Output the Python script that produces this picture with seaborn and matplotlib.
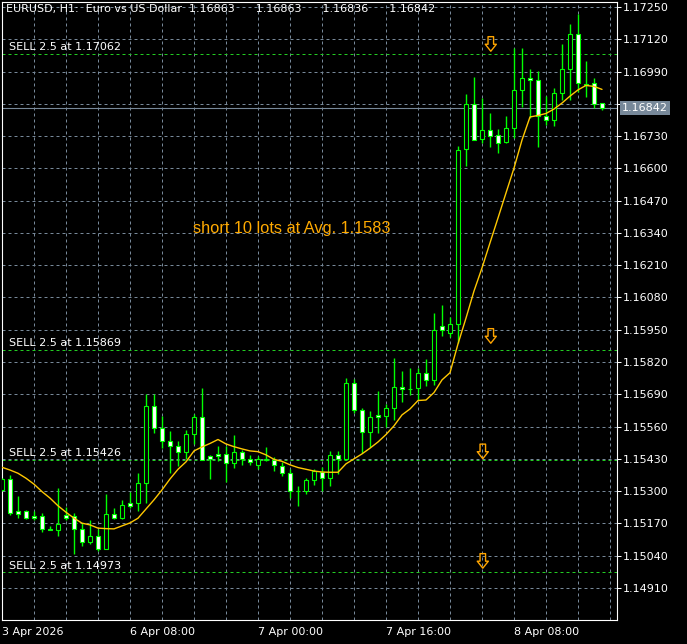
import numpy as np
import pandas as pd
import matplotlib
matplotlib.use('Agg')
import matplotlib.pyplot as plt
from matplotlib.path import Path
import seaborn as sns

# ------------------------------------
# --- Dados (EURUSD H1), um valor por barra
# ------------------------------------
opens = [1.15305, 1.15349, 1.15220, 1.15220, 1.15200, 1.15200, 1.15146, 1.15144, 1.15204, 1.15200,
         1.15148, 1.15095, 1.15119, 1.15067, 1.15206, 1.15190, 1.15251, 1.15253, 1.15333, 1.15643,
         1.15553, 1.15500, 1.15480, 1.15456, 1.15532, 1.15597, 1.15440, 1.15448, 1.15448, 1.15412,
         1.15458, 1.15428, 1.15404, 1.15426, 1.15426, 1.15402, 1.15375, 1.15299, 1.15299, 1.15343,
         1.15379, 1.15351, 1.15444, 1.15428, 1.15734, 1.15627, 1.15540, 1.15605, 1.15603, 1.15633,
         1.15718, 1.15711, 1.15714, 1.15774, 1.15748, 1.15965, 1.15937, 1.15975, 1.16676, 1.16861,
         1.16717, 1.16754, 1.16734, 1.16705, 1.16761, 1.16916, 1.16963, 1.16956, 1.16811, 1.16795,
         1.16902, 1.16999, 1.17141, 1.16940, 1.16943, 1.16863]
highs = [1.15353, 1.15363, 1.15281, 1.15224, 1.15220, 1.15212, 1.15158, 1.15313, 1.15236, 1.15212,
         1.15172, 1.15184, 1.15148, 1.15287, 1.15232, 1.15265, 1.15295, 1.15375, 1.15690, 1.15690,
         1.15603, 1.15542, 1.15500, 1.15546, 1.15611, 1.15714, 1.15446, 1.15482, 1.15482, 1.15526,
         1.15466, 1.15446, 1.15442, 1.15478, 1.15436, 1.15416, 1.15391, 1.15321, 1.15351, 1.15389,
         1.15397, 1.15460, 1.15462, 1.15754, 1.15750, 1.15635, 1.15621, 1.15702, 1.15651, 1.15836,
         1.15784, 1.15796, 1.15796, 1.15832, 1.16016, 1.16050, 1.16003, 1.16692, 1.16900, 1.16967,
         1.16883, 1.16821, 1.16758, 1.16811, 1.17086, 1.17086, 1.17000, 1.16992, 1.16891, 1.16922,
         1.17101, 1.17181, 1.17222, 1.17032, 1.16965, 1.16863]
lows = [1.15301, 1.15204, 1.15192, 1.15188, 1.15184, 1.15136, 1.15142, 1.15118, 1.15184, 1.15047,
        1.15079, 1.15087, 1.15059, 1.15065, 1.15186, 1.15186, 1.15232, 1.15218, 1.15253, 1.15536,
        1.15472, 1.15375, 1.15400, 1.15430, 1.15490, 1.15424, 1.15349, 1.15422, 1.15337, 1.15395,
        1.15406, 1.15406, 1.15389, 1.15420, 1.15381, 1.15361, 1.15271, 1.15242, 1.15287, 1.15325,
        1.15299, 1.15321, 1.15369, 1.15424, 1.15615, 1.15454, 1.15478, 1.15536, 1.15557, 1.15587,
        1.15657, 1.15686, 1.15667, 1.15724, 1.15728, 1.15923, 1.15921, 1.15897, 1.16610, 1.16714,
        1.16703, 1.16688, 1.16660, 1.16702, 1.16721, 1.16846, 1.16802, 1.16687, 1.16775, 1.16772,
        1.16875, 1.16875, 1.16909, 1.16889, 1.16842, 1.16836]
closes = [1.15349, 1.15210, 1.15208, 1.15192, 1.15190, 1.15148, 1.15144, 1.15168, 1.15192, 1.15148,
          1.15095, 1.15119, 1.15067, 1.15206, 1.15192, 1.15244, 1.15242, 1.15333, 1.15643, 1.15553,
          1.15500, 1.15480, 1.15456, 1.15532, 1.15597, 1.15426, 1.15430, 1.15440, 1.15412, 1.15456,
          1.15428, 1.15418, 1.15428, 1.15428, 1.15404, 1.15375, 1.15301, 1.15301, 1.15345, 1.15383,
          1.15351, 1.15444, 1.15428, 1.15734, 1.15625, 1.15540, 1.15597, 1.15597, 1.15633, 1.15718,
          1.15710, 1.15713, 1.15774, 1.15746, 1.15949, 1.15947, 1.15975, 1.16674, 1.16859, 1.16716,
          1.16754, 1.16732, 1.16704, 1.16761, 1.16916, 1.16963, 1.16955, 1.16811, 1.16795, 1.16902,
          1.16999, 1.17141, 1.16943, 1.16934, 1.16859, 1.16842]
# media movel (linha amarela)
ma_line = [1.15396, 1.15385, 1.15372, 1.15352, 1.15328, 1.15298, 1.15272, 1.15241, 1.15215, 1.15191,
           1.15171, 1.15164, 1.15151, 1.15149, 1.15148, 1.15160, 1.15172, 1.15191, 1.15228, 1.15265,
           1.15305, 1.15349, 1.15388, 1.15418, 1.15462, 1.15478, 1.15492, 1.15508, 1.15490, 1.15479,
           1.15470, 1.15462, 1.15459, 1.15446, 1.15428, 1.15420, 1.15406, 1.15395, 1.15388, 1.15381,
           1.15377, 1.15376, 1.15376, 1.15410, 1.15430, 1.15450, 1.15473, 1.15498, 1.15528, 1.15563,
           1.15607, 1.15631, 1.15665, 1.15667, 1.15697, 1.15748, 1.15777, 1.15893, 1.15997, 1.16106,
           1.16199, 1.16300, 1.16400, 1.16501, 1.16601, 1.16714, 1.16807, 1.16813, 1.16821, 1.16839,
           1.16863, 1.16891, 1.16916, 1.16934, 1.16930, 1.16918]

time_ticks = [0, 16, 32, 48, 64]
time_labels = ['3 Apr 2026', '6 Apr 08:00', '7 Apr 00:00', '7 Apr 16:00', '8 Apr 08:00']
price_ticks = [1.14910, 1.15040, 1.15170, 1.15300, 1.15430, 1.15560, 1.15690, 1.15820, 1.15950, 1.16080,
               1.16210, 1.16340, 1.16470, 1.16600, 1.16730, 1.16860, 1.16990, 1.17120, 1.17250]

sell_prices = [1.17062, 1.15869, 1.15426, 1.14973]
sell_lots = 2.5
arrow_bars = [61.1, 61.1, 60.1, 60.1]
arrow_prices = [1.17101, 1.15925, 1.15460, 1.15019]

bid = 1.16842
header = 'EURUSD, H1:  Euro vs US Dollar  1.16863      1.16863      1.16836      1.16842'
avg_text = 'short 10 lots at Avg. 1.1583'
avg_pos = (23.9, 1.16340)

df = pd.DataFrame({'open': opens, 'high': highs, 'low': lows, 'close': closes, 'ma': ma_line})
df['bar'] = np.arange(len(df))

# ------------------------------------
# --- Estilo
# ------------------------------------
sns.set_style('dark', {'axes.facecolor': 'black', 'figure.facecolor': 'black',
                       'axes.grid': False, 'axes.edgecolor': 'white'})
plt.rcParams['font.family'] = ['DejaVu Sans']

GREEN = '#00FF00'
GRID = '#778899'

fig = plt.figure(figsize=(6.87, 6.44), dpi=100)
ax = fig.add_axes([2 / 687, 24 / 644, 615 / 687, 618 / 644])
ax.set_facecolor('black')

# grade tracejada
for p in price_ticks:
    ax.axhline(p, color=GRID, lw=0.72, ls=(0, (3, 3)), zorder=1)
for b in range(4, 77, 4):
    ax.axvline(b, color=GRID, lw=0.72, ls=(0, (3, 3)), zorder=1)

# linhas de venda
for p in sell_prices:
    ax.axhline(p, color='#22CC22', lw=0.72, ls=(0, (3, 3)), zorder=2)
    ax.annotate(f'SELL {sell_lots} at {p:.5f}', xy=(0.875, p), xytext=(0, 1),
                textcoords='offset points', va='bottom', ha='left',
                color='white', fontsize=8, zorder=6)

# linha do bid
ax.axhline(bid, color=GRID, lw=0.8, zorder=2)

# velas
bull = df['close'] >= df['open']
body_lo = np.minimum(df['open'], df['close'])
body_h = (df['close'] - df['open']).abs()
ax.vlines(df['bar'], df['low'], df['high'], color=GREEN, lw=1, zorder=3)
ax.bar(df['bar'], body_h, bottom=body_lo, width=0.55,
       color=np.where(bull, 'black', 'white'), edgecolor=GREEN, linewidth=0.8, zorder=4)

# media movel
sns.lineplot(data=df, x='bar', y='ma', ax=ax, color='#FFC800', lw=1, zorder=5, legend=False)

# setas de venda
arrow = Path([(-0.19, 0.5), (0.19, 0.5), (0.19, -0.02), (0.38, -0.02), (0, -0.5),
              (-0.38, -0.02), (-0.19, -0.02), (-0.19, 0.5)],
             [Path.MOVETO] + [Path.LINETO] * 6 + [Path.CLOSEPOLY])
ax.scatter(arrow_bars, arrow_prices, marker=arrow, s=110, facecolors='none',
           edgecolors='#FFA500', linewidths=1, zorder=6)

ax.text(avg_pos[0], avg_pos[1], avg_text, color='#FFAA00', fontsize=11.8,
        family=['Liberation Sans', 'DejaVu Sans'], va='baseline', ha='left', zorder=6)

fig.text(6 / 687, 1 - 9 / 644, header, color='white', fontsize=8, va='center', ha='left')

# eixos
ax.set_xlim(0, 76.875)
ax.set_ylim(1.14781, 1.17270)
ax.set_xlabel('')
ax.set_ylabel('')
ax.yaxis.tick_right()
ax.set_yticks(price_ticks)
# o rotulo 1.16860 fica escondido atras da caixa do bid
ax.set_yticklabels(['' if abs(p - bid) < 0.0004 else f'{p:.5f}' for p in price_ticks])
ax.set_xticks(time_ticks)
ax.set_xticklabels(time_labels, ha='left')
ax.tick_params(axis='y', colors='white', labelcolor='white', length=3, width=0.72, labelsize=8, pad=1,
               left=False, right=True)
ax.tick_params(axis='x', colors='white', labelcolor='white', length=3, width=0.72, labelsize=8, pad=2)
for s in ax.spines.values():
    s.set_color('white')
    s.set_linewidth(0.8)

ax.annotate(f'{bid:.5f}', xy=(1, bid), xycoords=('axes fraction', 'data'), xytext=(3.6, 0),
            textcoords='offset points', va='center', ha='left', color='white', fontsize=8,
            bbox=dict(boxstyle='square,pad=0.2', fc=GRID, ec='none'),
            annotation_clip=False, zorder=10)

fig.savefig('out.png', dpi=100, facecolor='black')
